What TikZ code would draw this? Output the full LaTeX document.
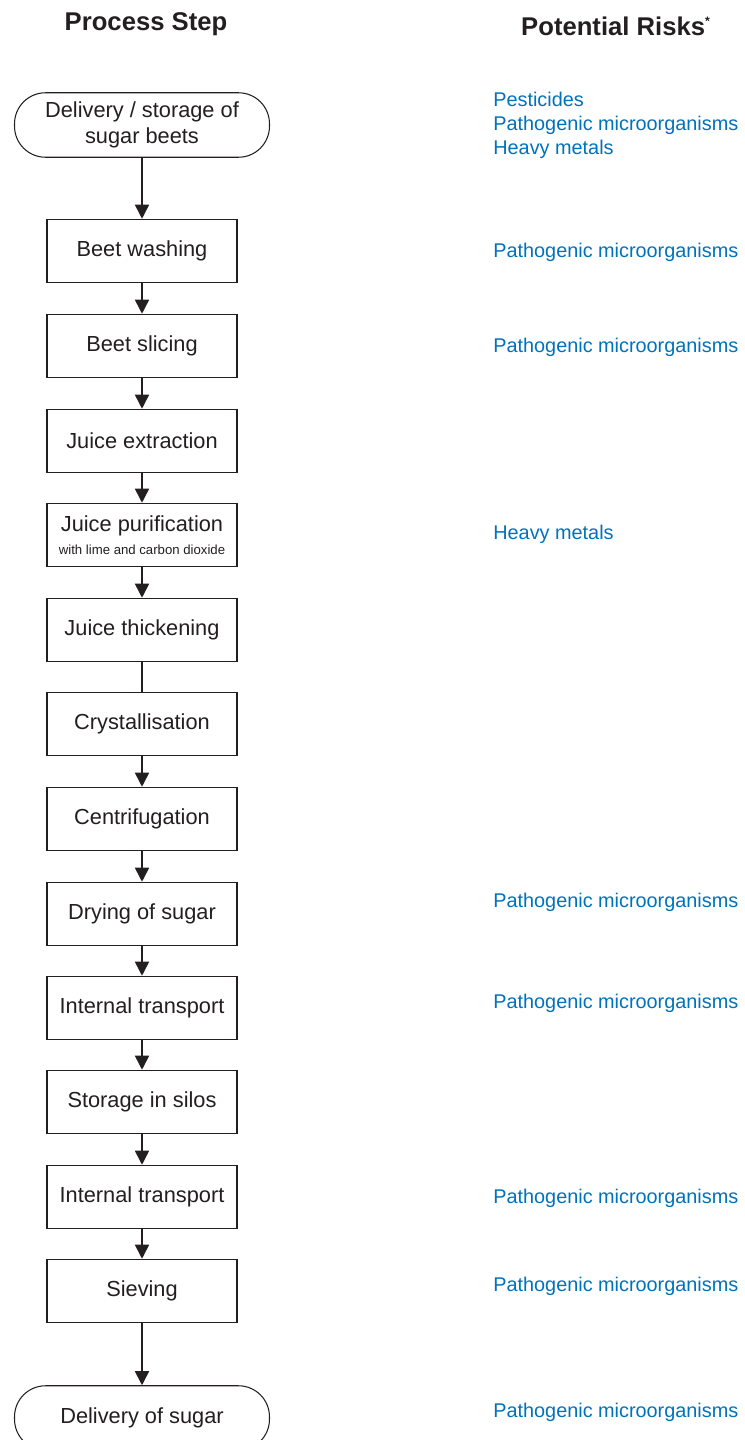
\documentclass[tikz,border=0pt]{standalone}
\usepackage{fontspec}
\setmainfont{Liberation Sans}
\usetikzlibrary{arrows.meta,positioning}
\definecolor{riskblue}{RGB}{0,114,188}
\definecolor{inkgray}{RGB}{35,31,32}
\tikzset{
  stepbox/.style={draw=inkgray, line width=0.6pt, fill=white,
                  minimum width=3.8cm, minimum height=1.27cm,
                  inner sep=2pt, align=center, text=inkgray,
                  font=\fontsize{12.4}{15.2}\selectfont},
  terminal/.style={stepbox, minimum width=5.1cm, minimum height=1.29cm,
                   rounded corners=0.62cm},
  head/.style={font=\fontsize{14.6}{17}\selectfont\bfseries, text=inkgray},
  risk/.style={anchor=west, align=left, text=riskblue, inner sep=0pt,
               font=\fontsize{11.3}{13.6}\selectfont},
  flow/.style={-{Triangle[length=8pt,width=8pt]}, line width=0.9pt, draw=inkgray},
  plain/.style={line width=0.9pt, draw=inkgray},
}
\begin{document}
\begin{tikzpicture}[x=0.02cm,y=-0.02cm]
  \path[use as bounding box] (0,0) rectangle (744,1440);

  \node[head] (hstep) at (146,24) {Process Step};
  \node[head] (hrisk) at (616,26) {Potential Risks\textsuperscript{\scriptsize *}};

  % process steps, top to bottom
  \node[terminal] (deliv) at (142,125) {Delivery / storage of\\sugar beets};
  \node[stepbox] (wash) at (142,251) {Beet washing};
  \node[stepbox] (slice) at (142,346) {Beet slicing};
  \node[stepbox] (extract) at (142,441) {Juice extraction};
  \node[stepbox] (purify) at (142,535)
    {Juice purification\\[-2pt]{\fontsize{7.5}{9}\selectfont with lime and carbon dioxide}};
  \node[stepbox] (thicken) at (142,630) {Juice thickening};
  \node[stepbox] (cryst) at (142,724) {Crystallisation};
  \node[stepbox] (centri) at (142,819) {Centrifugation};
  \node[stepbox] (dry) at (142,914) {Drying of sugar};
  \node[stepbox] (transA) at (142,1008) {Internal transport};
  \node[stepbox] (silo) at (142,1102) {Storage in silos};
  \node[stepbox] (transB) at (142,1197) {Internal transport};
  \node[stepbox] (sieve) at (142,1291) {Sieving};
  \node[terminal] (out) at (142,1418) {Delivery of sugar};

  \draw[flow] (deliv.south) -- (wash.north);
  \draw[flow] (wash.south) -- (slice.north);
  \draw[flow] (slice.south) -- (extract.north);
  \draw[flow] (extract.south) -- (purify.north);
  \draw[flow] (purify.south) -- (thicken.north);
  \draw[plain] (thicken.south) -- (cryst.north);
  \draw[flow] (cryst.south) -- (centri.north);
  \draw[flow] (centri.south) -- (dry.north);
  \draw[flow] (dry.south) -- (transA.north);
  \draw[flow] (transA.south) -- (silo.north);
  \draw[flow] (silo.south) -- (transB.north);
  \draw[flow] (transB.south) -- (sieve.north);
  \draw[flow] (sieve.south) -- (out.north);

  % risks
  \node[risk] (rdeliv) at (493,125) {Pesticides\\Pathogenic microorganisms\\Heavy metals};
  \node[risk] (rwash) at (493,252) {Pathogenic microorganisms};
  \node[risk] (rslice) at (493,347) {Pathogenic microorganisms};
  \node[risk] (rpurify) at (493,534) {Heavy metals};
  \node[risk] (rdry) at (493,902) {Pathogenic microorganisms};
  \node[risk] (rtransA) at (493,1003) {Pathogenic microorganisms};
  \node[risk] (rtransB) at (493,1198) {Pathogenic microorganisms};
  \node[risk] (rsieve) at (493,1286) {Pathogenic microorganisms};
  \node[risk] (rout) at (493,1412) {Pathogenic microorganisms};
\end{tikzpicture}
\end{document}
